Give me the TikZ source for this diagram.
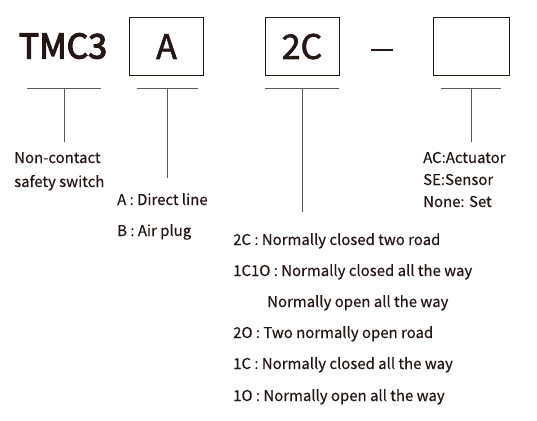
\documentclass[tikz,border=0pt]{standalone}
\usepackage{fontspec}
\setmainfont[FakeBold=0.4]{Noto Sans CJK SC}
\newfontfamily\midfont[FakeBold=2]{Noto Sans CJK SC}
\newfontfamily\headfont[FakeBold=3.5]{Noto Sans CJK SC}
\definecolor{ink}{HTML}{231815}
\definecolor{rule}{HTML}{595757}

\begin{document}
\begin{tikzpicture}[x=1bp, y=-1bp, text=ink,
		font=\fontsize{15}{24}\selectfont,
		code/.style={draw=ink, line width=0.9bp, inner sep=0pt,
			minimum width=74bp, minimum height=58bp,
			font=\fontsize{34}{34}\midfont},
		lead/.style={draw=rule, line width=0.9bp},
		note/.style={anchor=base west, inner sep=0pt}]
		\useasboundingbox (0,0) rectangle (537,420);
		%\draw[help lines, step=10] (0,0) grid (537,420);
		
		\node[font=\fontsize{34}{34}\headfont] (tmc) at (63,46) {TMC3};
		\node[code] (bA) at (166.5,46.5) {A};
		\node[code] (bC) at (302,46.5) {2C};
		\node[code, minimum width=76bp] (bS) at (471,46.5) {};
		\draw[ink, line width=1.2bp] (371,50) -- (393,50);
		
		% leaders under each field
		\foreach \n\x\w\e in {1/64/37/142, 2/167/30.5/178,
			3/302/37/212, 4/471/30/142}
		{
			\coordinate (u\n) at (\x,88);
			\coordinate (e\n) at (\x,\e);
			\draw[lead] ([xshift=-\w bp]u\n) -- ([xshift=\w bp]u\n);
			\draw[lead] (u\n) -- (e\n);
		}
		
		\foreach \n\y\s in {1/163/{Non-contact}, 2/187/{safety switch}}
		\node[note] (t\n) at (14,\y) {\s};
		
		\foreach \n\y\s in {1/205/{A : Direct line}, 2/236/{B : Air plug}}
		\node[note] (a\n) at (117,\y) {\s};
		
		\foreach \n\x\y\s in {1/233/245/{2C : Normally closed two road},
			2/233/276/{1C1O : Normally closed all the way},
			3/267/307/{Normally open all the way},
			4/233/338/{2O : Two normally open road},
			5/233/369/{1C : Normally closed all the way},
			6/233/401/{1O : Normally open all the way}}
		\node[note] (c\n) at (\x,\y) {\s};
		
		\foreach \n\y\s in {1/163/{AC:Actuator}, 2/185/{SE:Sensor},
			3/207/{None: Set}}
		\node[note] (s\n) at (423,\y) {\s};
		
	\end{tikzpicture}
\end{document}
